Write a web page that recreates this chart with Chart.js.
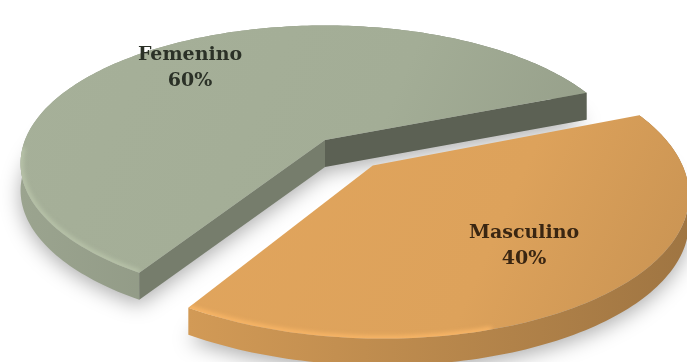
<!DOCTYPE html>
<html>
<head>
<meta charset="utf-8">
<script src="https://cdn.jsdelivr.net/npm/chart.js@4.4.1/dist/chart.umd.min.js"></script>
<style>
    html, body { margin: 0; padding: 0; background: #ffffff; }
    #chart-wrap { width: 687px; height: 362px; }
</style>
</head>
<body>
<div id="chart-wrap"><canvas id="chart-gender"></canvas></div>
<script>
const genderLabels = ['Masculino', 'Femenino'];
const genderShares = [40, 60];

// hex -> rgb string scaled by factor
function shade(hex, f) {
    const n = parseInt(hex.slice(1), 16);
    const c = [(n >> 16) & 255, (n >> 8) & 255, n & 255].map(v => Math.max(0, Math.min(255, Math.round(v * f))));
    return 'rgb(' + c.join(',') + ')';
}

// u, v are in radius units on the pie plane, v points toward the viewer
function project(arc, u, v, o) {
    const w = 1 - o.perspective * v;
    return {
        x: arc.x + o.stretchX * arc.outerRadius * u / w,
        y: arc.y + o.stretchY * arc.outerRadius * v / w
    };
}

function buildSlice(arc, o) {
    const mid = (arc.startAngle + arc.endAngle) / 2;
    const e = (arc.options.offset || 0) / arc.outerRadius;
    const du = Math.cos(mid) * e;
    const dv = Math.sin(mid) * e;
    const span = arc.endAngle - arc.startAngle;
    const steps = Math.ceil(span / 0.02);
    const rim = [];
    for (let i = 0; i <= steps; i++) {
        const a = arc.startAngle + span * i / steps;
        rim.push(Object.assign(project(arc, du + Math.cos(a), dv + Math.sin(a), o), { a: a }));
    }
    const center = project(arc, du, dv, o);
    const inner = project(arc, du + Math.cos(mid) * 0.5, dv + Math.sin(mid) * 0.5, o);
    return { arc, mid, du, dv, rim, center, inner, top: [center].concat(rim) };
}

function tracePoly(ctx, pts, dy) {
    ctx.beginPath();
    pts.forEach((p, i) => i ? ctx.lineTo(p.x, p.y + dy) : ctx.moveTo(p.x, p.y + dy));
    ctx.closePath();
}

function drawSlice(ctx, s, o) {
    const base = s.arc.options.backgroundColor;
    const D = o.depth;
    const xs = s.top.map(p => p.x);
    const ys = s.top.map(p => p.y);
    const minX = Math.min(...xs), maxX = Math.max(...xs);
    const minY = Math.min(...ys), maxY = Math.max(...ys);

    // outer wall
    const wall = ctx.createLinearGradient(minX, 0, maxX, 0);
    wall.addColorStop(0, shade(base, 0.95));
    wall.addColorStop(1, shade(base, 0.72));
    ctx.beginPath();
    s.rim.forEach((p, i) => i ? ctx.lineTo(p.x, p.y) : ctx.moveTo(p.x, p.y));
    for (let i = s.rim.length - 1; i >= 0; i--) ctx.lineTo(s.rim[i].x, s.rim[i].y + D);
    ctx.closePath();
    ctx.fillStyle = wall;
    ctx.fill();

    // cut faces, only those turned toward the viewer
    const faces = [
        { p: s.rim[0], normal: s.arc.startAngle - Math.PI / 2 },
        { p: s.rim[s.rim.length - 1], normal: s.arc.endAngle + Math.PI / 2 }
    ];
    faces.forEach(f => {
        const c = s.center;
        const side = q => (f.p.x - c.x) * (q.y - c.y) - (f.p.y - c.y) * (q.x - c.x);
        const below = { x: (c.x + f.p.x) / 2, y: (c.y + f.p.y) / 2 + 5 };
        if (side(s.inner) * side(below) >= 0) return;
        ctx.beginPath();
        ctx.moveTo(c.x, c.y);
        ctx.lineTo(f.p.x, f.p.y);
        ctx.lineTo(f.p.x, f.p.y + D);
        ctx.lineTo(c.x, c.y + D);
        ctx.closePath();
        ctx.fillStyle = shade(base, 0.5 + 0.3 * Math.cos(f.normal - o.lightAngle));
        ctx.fill();
    });

    // top face
    const topFill = ctx.createLinearGradient(minX, minY, maxX, maxY);
    topFill.addColorStop(0, shade(base, 1.02));
    topFill.addColorStop(0.6, shade(base, 1.0));
    topFill.addColorStop(1, shade(base, 0.9));
    tracePoly(ctx, s.top, 0);
    ctx.fillStyle = topFill;
    ctx.fill();

    // soft highlight along the front rim
    ctx.save();
    tracePoly(ctx, s.top, 0);
    ctx.clip();
    ctx.filter = 'blur(2px)';
    ctx.strokeStyle = shade(base, 1.12);
    ctx.lineWidth = 6;
    ctx.beginPath();
    let started = false;
    s.rim.forEach(p => {
        if (Math.sin(p.a) > 0.05 && Math.cos(p.a) < 0.3) {
            started ? ctx.lineTo(p.x, p.y) : ctx.moveTo(p.x, p.y);
            started = true;
        }
    });
    ctx.stroke();
    ctx.restore();
}

const pie3d = {
    id: 'pie3d',
    beforeDatasetsDraw(chart, args, o) {
        const ctx = chart.ctx;
        const slices = chart.getDatasetMeta(0).data.map(arc => buildSlice(arc, o));
        slices.sort((a, b) => Math.sin(a.mid) - Math.sin(b.mid));

        ctx.save();
        ctx.filter = 'blur(' + o.shadowBlur + 'px)';
        ctx.fillStyle = o.shadowColor;
        slices.forEach(s => {
            tracePoly(ctx, s.top, o.depth + o.shadowDrop);
            ctx.fill();
        });
        ctx.restore();

        slices.forEach(s => drawSlice(ctx, s, o));
        return false;
    },
    afterDraw(chart, args, o) {
        const ctx = chart.ctx;
        const data = chart.data.datasets[0].data;
        chart.getDatasetMeta(0).data.forEach((arc, i) => {
            const s = buildSlice(arc, o);
            const r = o.labelRadius[i];
            const p = project(arc, s.du + Math.cos(s.mid) * r, s.dv + Math.sin(s.mid) * r, o);
            ctx.save();
            ctx.font = 'bold 19px "DejaVu Serif"';
            ctx.textAlign = 'center';
            ctx.textBaseline = 'middle';
            ctx.fillStyle = o.labelColors[i];
            ctx.fillText(chart.data.labels[i], p.x, p.y - 13);
            ctx.fillText(data[i] + '%', p.x, p.y + 13);
            ctx.restore();
        });
    }
};

new Chart(document.getElementById('chart-gender'), {
    type: 'pie',
    data: {
        labels: genderLabels,
        datasets: [{
            data: genderShares,
            backgroundColor: ['#dda25b', '#a3ad96'],
            borderWidth: 0,
            offset: [30, 0]
        }]
    },
    options: {
        responsive: true,
        maintainAspectRatio: false,
        animation: false,
        events: [],
        rotation: 68,
        layout: { padding: { left: 0, right: 37, top: 0, bottom: 82 } },
        plugins: {
            legend: { display: false },
            tooltip: { enabled: false },
            pie3d: {
                perspective: 0.17,
                stretchX: 2.4,
                stretchY: 1.072,
                depth: 27,
                lightAngle: -10 * Math.PI / 180,
                shadowBlur: 10,
                shadowDrop: 5,
                shadowColor: 'rgba(0,0,0,0.32)',
                labelRadius: [0.67, 0.77],
                labelColors: ['#3a2612', '#2b3127']
            }
        }
    },
    plugins: [pie3d]
});
</script>
</body>
</html>
